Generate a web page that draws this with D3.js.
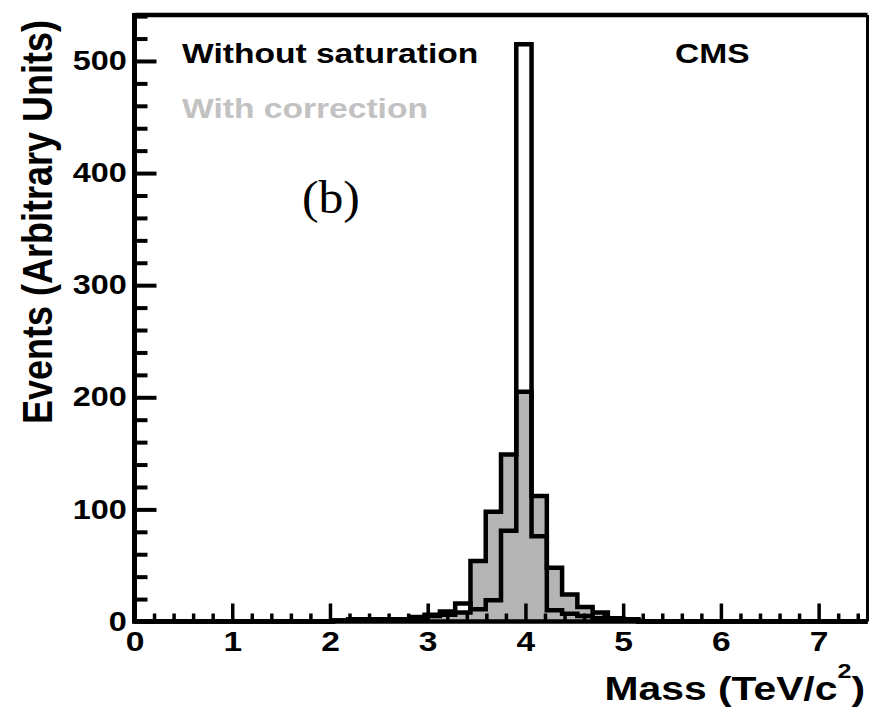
<!DOCTYPE html>
<html><head><meta charset="utf-8">
<script src="https://cdn.jsdelivr.net/npm/d3@7"></script>
<style>body{margin:0;background:#fff}</style>
</head><body><svg id="c" width="870" height="709"></svg>
<script>
// ---- data ----
const xRange = [0, 7.5];
const nBins = 48;
const yMax = 541;
// 48 bins of width 0.15625 TeV/c^2, from 0 to 7.5
const withoutSaturation = [0,0,0,0,0,0,0,0,0,0,0,0,0,1,2,2,2,2,4,6,9,16,11,19,81,515,76,10,7,5,3,2,1,0,0,0,0,0,0,0,0,0,0,0,0,0,0,0];
const withCorrection    = [0,0,0,0,0,0,0,0,0,0,0,0,0,1,1,2,1,2,3,5,6,8,54,98,149,205,112,48,24,13,8,3,2,0,0,0,0,0,0,0,0,0,0,0,0,0,0,0];
const xTicks = [0,1,2,3,4,5,6,7];
const yTicks = [0,100,200,300,400,500];
const legendLabels = ["Without saturation", "With correction"];
const experimentLabel = "CMS";
const panelLabel = "(b)";
const xTitleMain = "Mass (TeV/c";
const xTitleSup = "2";
const yTitle = "Events (Arbitrary Units)";

// ---- drawing ----
const SX = 1.2; // horizontal stretch of the original figure's text
const sans = "'Liberation Sans', Arial, Helvetica, sans-serif";
const svg = d3.select("#c");
const m = {l:134.5, r:867.5, t:15, b:621.5};
const x = d3.scaleLinear().domain(xRange).range([m.l, m.r]);
const y = d3.scaleLinear().domain([0, yMax]).range([m.b, m.t]);
const bw = (xRange[1]-xRange[0]) / nBins;

function stepPoints(vals){
  const p = [[x(xRange[0]), y(0)]];
  vals.forEach((v,i)=>{ p.push([x(xRange[0]+i*bw), y(v)]); p.push([x(xRange[0]+(i+1)*bw), y(v)]); });
  p.push([x(xRange[1]), y(0)]);
  return p;
}
const line = d3.line();

// gray (with correction), filled
svg.append("path").attr("d", line(stepPoints(withCorrection)) + "Z")
  .attr("fill", "#b4b4b4").attr("stroke", "none");
svg.append("path").attr("d", line(stepPoints(withCorrection)))
  .attr("fill", "none").attr("stroke", "#000").attr("stroke-width", 4.5).attr("stroke-linejoin","miter");
// white (without saturation), hollow
svg.append("path").attr("d", line(stepPoints(withoutSaturation)))
  .attr("fill", "none").attr("stroke", "#000").attr("stroke-width", 4.5).attr("stroke-linejoin","miter");

// frame
svg.append("line").attr("x1", m.l).attr("x2", m.r).attr("y1", m.t).attr("y2", m.t).attr("stroke","#000").attr("stroke-width",4.5);
svg.append("line").attr("x1", m.r).attr("x2", m.r).attr("y1", m.t).attr("y2", m.b).attr("stroke","#000").attr("stroke-width",3);

// y axis
const yMinor = d3.range(0, yMax, 20).filter(v => v % 100 !== 0);
const gyMin = svg.append("g").attr("transform", `translate(${m.l},0)`)
  .call(d3.axisLeft(y).tickValues(yMinor).tickSize(-13).tickFormat(""));
const gy = svg.append("g").attr("transform", `translate(${m.l},0)`)
  .call(d3.axisLeft(y).tickValues(yTicks).tickSizeInner(-22).tickSizeOuter(0).tickPadding(6.5));
[gyMin, gy].forEach(g => { g.select(".domain").remove(); g.selectAll("line").attr("stroke","#000").attr("stroke-width",4); });
gy.selectAll("text").attr("font-family", sans).attr("font-weight","bold").attr("font-size", 27)
  .attr("fill","#000").attr("transform", `scale(${SX},1)`);

// x axis
const xMinor = d3.range(0, 7.5001, 0.2).filter(v => Math.abs(v - Math.round(v)) > 1e-6 && v < 7.5);
const gxMin = svg.append("g").attr("transform", `translate(0,${m.b})`)
  .call(d3.axisBottom(x).tickValues(xMinor).tickSize(-8).tickFormat(""));
const gx = svg.append("g").attr("transform", `translate(0,${m.b})`)
  .call(d3.axisBottom(x).tickValues(xTicks).tickSizeInner(-18).tickSizeOuter(0).tickPadding(10).tickFormat(d3.format("d")));
[gxMin, gx].forEach(g => { g.select(".domain").remove(); g.selectAll("line").attr("stroke","#000").attr("stroke-width",3.5); });
gx.selectAll("text").attr("font-family", sans).attr("font-weight","bold").attr("font-size", 28)
  .attr("fill","#000").attr("transform", `scale(${SX},1)`);

// axis lines (thick)
svg.append("line").attr("x1", m.l).attr("x2", m.l).attr("y1", m.t-2).attr("y2", m.b+2).attr("stroke","#000").attr("stroke-width",5);
svg.append("line").attr("x1", m.l-2).attr("x2", m.r).attr("y1", m.b).attr("y2", m.b).attr("stroke","#000").attr("stroke-width",4.5);

// texts
function stretchedText(px, py, str, size, opts={}){
  const g = svg.append("g").attr("transform", `translate(${px},${py}) scale(${opts.sx||SX},1)` + (opts.rot ? ` rotate(${opts.rot})` : ""));
  return g.append("text").attr("x",0).attr("y",0).text(str)
    .attr("font-family", opts.family || sans).attr("font-weight", opts.weight || "bold")
    .attr("font-size", size).attr("fill", opts.fill || "#000")
    .attr("text-anchor", opts.anchor || "start");
}
stretchedText(182, 63, legendLabels[0], 28);
stretchedText(182, 118, legendLabels[1], 28, {fill:"#c2c2c2"});
stretchedText(675, 63, experimentLabel, 28);
stretchedText(302, 213, panelLabel, 46, {family:"'Liberation Serif', 'Times New Roman', serif", weight:"normal", sx:1.08});

const xt = stretchedText(865, 700, xTitleMain, 34, {anchor:"end"});
xt.append("tspan").attr("dy", -22).attr("font-size", 21).text(xTitleSup);
xt.append("tspan").attr("dy", 22).attr("font-size", 34).text(")");

stretchedText(52, 20, yTitle, 36, {anchor:"end", rot:-90});
</script>
</body></html>
